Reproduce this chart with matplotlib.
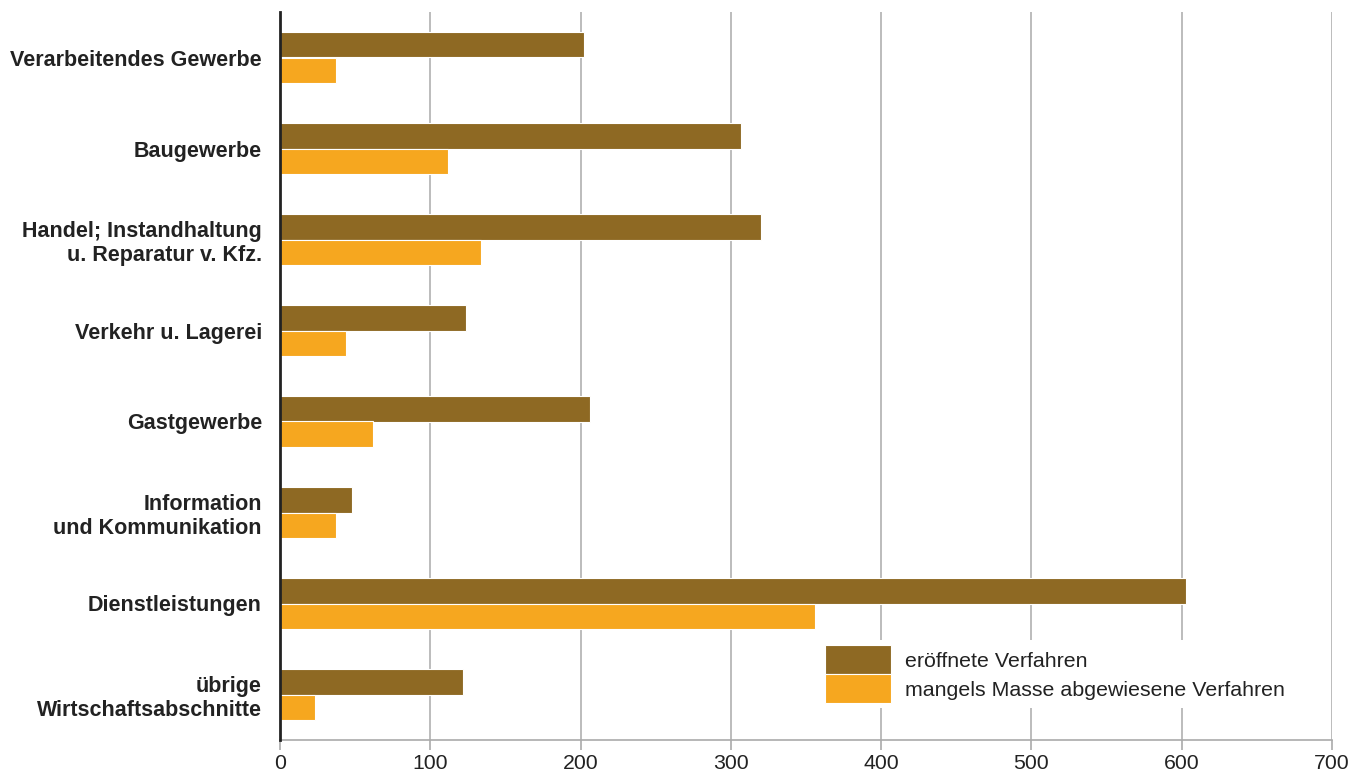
import matplotlib

matplotlib.use("Agg")

import matplotlib.pyplot as plt  # noqa: E402
import numpy as np  # noqa: E402

plt.rcParams["font.family"] = ["Liberation Sans", "DejaVu Sans"]

categories = [
    "Verarbeitendes Gewerbe",
    "Baugewerbe",
    "Handel; Instandhaltung\nu. Reparatur v. Kfz.",
    "Verkehr u. Lagerei",
    "Gastgewerbe",
    "Information\nund Kommunikation",
    "Dienstleistungen",
    "übrige\nWirtschaftsabschnitte",
]
eroeffnet = [202, 307, 320, 124, 206, 48, 603, 122]
abgewiesen = [37, 112, 134, 44, 62, 37, 356, 23]
series_labels = ["eröffnete Verfahren", "mangels Masse abgewiesene Verfahren"]
x_ticks = [0, 100, 200, 300, 400, 500, 600, 700]

BROWN = "#8E6923"
ORANGE = "#F6A71F"

W, H = 1365, 778
fig = plt.figure(figsize=(W / 100, H / 100), dpi=100)
ax = fig.add_axes([280 / W, 1 - 740 / H, (1332 - 280) / W, (740 - 12) / H])

y = np.arange(len(categories))
bh = 0.28
ax.barh(y - bh / 2, eroeffnet, height=bh, color=BROWN, edgecolor="white",
        linewidth=0.8, label=series_labels[0], zorder=3)
ax.barh(y + bh / 2, abgewiesen, height=bh, color=ORANGE, edgecolor="white",
        linewidth=0.8, label=series_labels[1], zorder=3)

ax.set_ylim(len(categories) - 0.5, -0.5)
ax.set_xlim(0, 700)
ax.set_yticks(y)
ax.set_yticklabels(categories, fontsize=15.5, fontweight="bold", color="#222222",
                   linespacing=1.2)
ax.tick_params(axis="y", length=0, pad=13)
ax.set_xticks(x_ticks)
ax.set_xticklabels([str(t) for t in x_ticks], fontsize=15.3, color="#222222")
ax.tick_params(axis="x", length=7, width=1.2, color="#aaaaaa", pad=3)

ax.grid(axis="x", color="#b0b0b0", linewidth=1.2, zorder=0)
for side in ("top", "right"):
    ax.spines[side].set_visible(False)
ax.spines["left"].set_color("#222222")
ax.spines["left"].set_linewidth(2)
ax.spines["left"].set_zorder(4)
ax.spines["bottom"].set_color("#aaaaaa")
ax.spines["bottom"].set_linewidth(1.2)

leg = ax.legend(loc="upper left", bbox_to_anchor=((826 - 280) / 1052 - 0.006, 1 - (640 - 12) / 728),
                fontsize=15.4, frameon=True, fancybox=False, edgecolor="none",
                facecolor="white", framealpha=1, handlelength=3.07, handleheight=1.7,
                labelspacing=0.0, handletextpad=0.65, borderpad=0.25, borderaxespad=0)
leg.set_zorder(5)
for t in leg.get_texts():
    t.set_color("#222222")

fig.savefig("out.png", dpi=100)
